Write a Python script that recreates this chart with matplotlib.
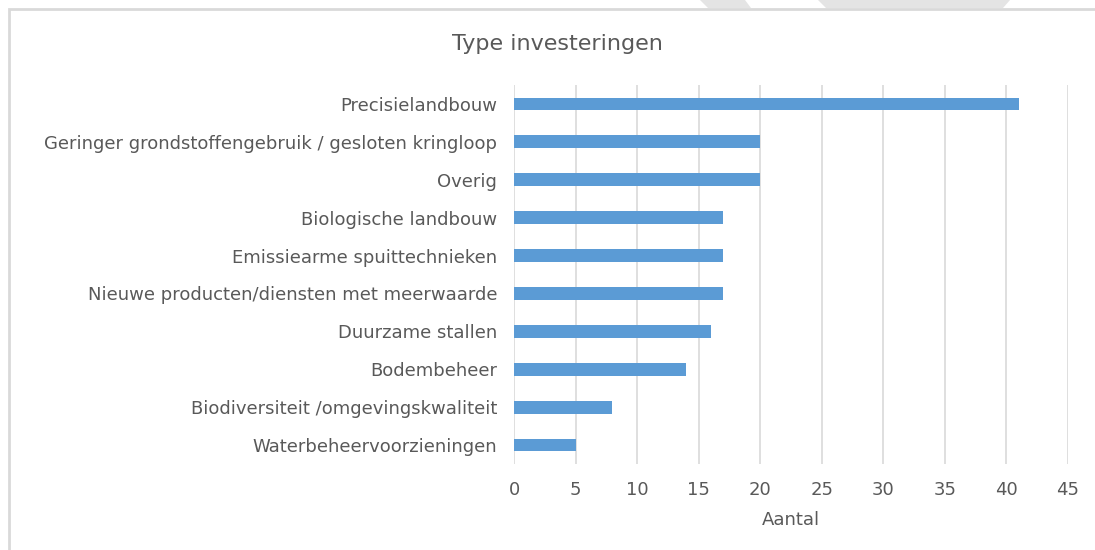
import matplotlib
matplotlib.use("Agg")
import matplotlib.pyplot as plt
from matplotlib.patches import Rectangle, Polygon

# data
# ------------------------------------------------------------------------------------------------------------------
categories = [
    'Precisielandbouw',
    'Geringer grondstoffengebruik / gesloten kringloop',
    'Overig',
    'Biologische landbouw',
    'Emissiearme spuittechnieken',
    'Nieuwe producten/diensten met meerwaarde',
    'Duurzame stallen',
    'Bodembeheer',
    'Biodiversiteit /omgevingskwaliteit',
    'Waterbeheervoorzieningen',
]
values = [41, 20, 20, 17, 17, 17, 16, 14, 8, 5]
xticks = [0, 5, 10, 15, 20, 25, 30, 35, 40, 45]

text_col = '#595959'
plt.rcParams['font.family'] = ['DejaVu Sans']

W, H = 1095, 550

# plot
# ------------------------------------------------------------------------------------------------------------------
fig = plt.figure(figsize=(W / 100, H / 100), dpi=100)

# watermark fragments peeking above the chart border
for pts in ([(700, 0), (745, 0), (751, 8), (708, 8)],
            [(818, 0), (1010, 0), (1003, 8), (826, 8)]):
    fig.patches.append(Polygon([(x / W, 1 - y / H) for x, y in pts], closed=True,
                               transform=fig.transFigure, facecolor='#e4e4e4',
                               edgecolor='none', zorder=0))
# chart border
fig.patches.append(Rectangle((8.5 / W, -0.1), 1.2, 1 - 8.5 / H + 0.1, transform=fig.transFigure,
                             facecolor='white', edgecolor='#d9d9d9', linewidth=2, zorder=1))

ax = fig.add_axes([514 / W, 1 - 464 / H, (1068 - 514) / W, (464 - 85) / H])
ax.set_zorder(2)
ax.patch.set_alpha(0)

ypos = list(range(len(categories)))[::-1]
ax.barh(ypos, values, height=0.34, color='#5B9BD5', zorder=3)

ax.set_xlim(0, 45)
ax.set_ylim(-0.5, len(categories) - 0.5)
ax.set_xticks(xticks)
ax.set_xticklabels([str(t) for t in xticks])
ax.set_yticks(ypos)
ax.set_yticklabels(categories)
ax.tick_params(axis='both', length=0, colors=text_col, labelsize=13)
ax.tick_params(axis='y', pad=12)
ax.tick_params(axis='x', pad=12)
ax.grid(axis='x', color='#d9d9d9', linewidth=1.2, zorder=0)
for s in ax.spines.values():
    s.set_visible(False)

ax.set_xlabel('Aantal', color=text_col, fontsize=13, labelpad=9)
fig.text(557 / W, 1 - 44 / H, 'Type investeringen', ha='center', va='center',
         color=text_col, fontsize=16)

fig.savefig('out.png', dpi=100)
